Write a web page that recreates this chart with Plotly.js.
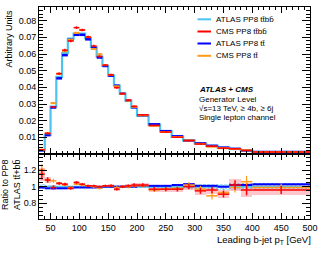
<!DOCTYPE html>
<html>
<head>
<meta charset="utf-8">
<script src="https://cdn.plot.ly/plotly-3.0.1.min.js"></script>
<style>html,body{margin:0;padding:0;background:#fff}#c{width:332px;height:257px}</style>
</head>
<body>
<div id="c"></div>
<script>
// bin edges (GeV)
const binEdges = [30,40,50,60,70,80,90,100,110,120,130,140,150,160,170,180,190,200,220,240,260,280,300,320,340,360,380,400,500];

// top panel: normalised distributions
const atlasTtbb = [0.0022,0.0115,0.0285,0.0463,0.0605,0.0692,0.0722,0.0722,0.0695,0.0642,0.0585,0.0528,0.0470,0.0410,0.0362,0.0320,0.0280,0.0230,0.0176,0.0136,0.0104,0.0080,0.0063,0.0049,0.0038,0.0030,0.0022,0.0012];
const cmsTtbb   = [0.0025,0.0124,0.0282,0.0482,0.0623,0.0678,0.0758,0.0744,0.0702,0.0648,0.0585,0.0533,0.0475,0.0398,0.0362,0.0323,0.0286,0.0235,0.0171,0.0132,0.0101,0.0080,0.0060,0.0047,0.0035,0.0031,0.0021,0.00115];
const atlasTt   = [0.0022,0.0113,0.0279,0.0454,0.0593,0.0685,0.0715,0.0715,0.0688,0.0636,0.0579,0.0528,0.0470,0.0410,0.0362,0.0320,0.0280,0.0232,0.0178,0.0137,0.0106,0.0082,0.0064,0.0049,0.0038,0.0031,0.0022,0.00124];
const cmsTt     = [0.0026,0.0124,0.0305,0.0482,0.0617,0.0685,0.0727,0.0744,0.0702,0.0630,0.0598,0.0533,0.0475,0.0406,0.0362,0.0320,0.0283,0.0232,0.0169,0.0132,0.0102,0.0082,0.0061,0.0044,0.0035,0.0030,0.0023,0.0012];
const cmsTtbbErr = [0.0003,0.0005,0.0006,0.0007,0.0008,0.0008,0.0008,0.0008,0.0008,0.0007,0.0007,0.0006,0.0006,0.0006,0.0005,0.0005,0.0005,0.0004,0.0004,0.0003,0.0003,0.0003,0.0003,0.0002,0.0002,0.0002,0.0002,0.0001];
const cmsTtErr   = [0.0003,0.0004,0.0005,0.0006,0.0006,0.0006,0.0006,0.0006,0.0006,0.0006,0.0006,0.0005,0.0005,0.0005,0.0004,0.0004,0.0004,0.0004,0.0003,0.0003,0.0003,0.0002,0.0002,0.0002,0.0002,0.0002,0.0002,0.0001];

// ratio panel: ratio to ATLAS PP8 tt+bb
const ratioAtlasTtbb = [1,1,1,1,1,1,1,1,1,1,1,1,1,1,1,1,1,1,1,1,1,1,1,1,1,1,1,1];
const ratioAtlasTtbbUnc = [0.03,0.02,0.015,0.012,0.01,0.01,0.01,0.01,0.01,0.01,0.01,0.012,0.012,0.015,0.015,0.015,0.015,0.015,0.02,0.02,0.025,0.025,0.03,0.03,0.035,0.04,0.045,0.045];
const ratioCmsTtbb = [1.15,1.08,0.99,1.04,1.03,0.98,1.05,1.03,1.01,1.01,1.00,1.01,1.01,0.97,1.00,1.01,1.02,1.02,0.97,0.97,0.97,1.00,0.95,0.96,0.91,1.02,0.96,0.96];
const ratioCmsTtbbUnc = [0.08,0.04,0.03,0.02,0.02,0.02,0.02,0.015,0.015,0.015,0.015,0.015,0.02,0.02,0.02,0.02,0.025,0.025,0.03,0.03,0.035,0.04,0.045,0.05,0.05,0.07,0.08,0.06];
const ratioAtlasTt = [0.99,0.98,0.98,0.98,0.98,0.99,0.99,0.99,0.99,0.99,0.99,1.00,1.00,1.00,1.00,1.00,1.00,1.01,1.01,1.01,1.02,1.03,1.01,1.01,1.00,1.02,1.02,1.03];
const ratioCmsTt = [1.20,1.08,1.07,1.04,1.02,0.99,1.03,1.02,1.01,1.00,0.98,1.01,1.01,0.99,1.00,1.00,1.01,1.01,0.96,0.97,0.98,1.02,0.97,0.89,0.93,0.99,1.06,0.99];
const ratioCmsTtUnc = [0.07,0.03,0.025,0.02,0.015,0.015,0.015,0.015,0.015,0.015,0.015,0.015,0.015,0.02,0.02,0.02,0.02,0.02,0.025,0.025,0.03,0.035,0.04,0.045,0.05,0.06,0.07,0.05];

const seriesNames = ['ATLAS PP8 tt\u0304bb\u0304','CMS PP8 tt\u0304bb\u0304','ATLAS PP8 tt\u0304','CMS PP8 tt\u0304'];
const xTitle = 'Leading b-jet p<sub>T</sub> [GeV]';

const cLight = '#4cc4f0', cRed = '#ff0000', cBlue = '#0000ff', cOrange = '#ff9a1a';

const centers = [], halfW = [], widths = [];
for (let i = 0; i < binEdges.length - 1; i++) {
  centers.push((binEdges[i] + binEdges[i+1]) / 2);
  halfW.push((binEdges[i+1] - binEdges[i]) / 2);
  widths.push(binEdges[i+1] - binEdges[i]);
}
const stepY = v => v.concat([v[v.length-1]]);

function segs(y, color, thick, xa, ya, yerr, yerrThick) {
  const t = {x: centers, y: y, mode: 'markers', type: 'scatter', xaxis: xa, yaxis: ya,
    marker: {size: 1, color: color}, showlegend: false, hoverinfo: 'skip',
    error_x: {type: 'data', array: halfW, visible: true, color: color, thickness: thick, width: 0}};
  if (yerr) t.error_y = {type: 'data', array: yerr, visible: true, color: color, thickness: yerrThick || 1, width: 0};
  return t;
}
function box(y, unc, color, xa, ya, pattern) {
  const t = {type: 'bar', x: centers, width: widths, base: y.map((v,i)=>v-unc[i]), y: unc.map(u=>2*u),
    xaxis: xa, yaxis: ya, showlegend: false, hoverinfo: 'skip',
    marker: {color: color, line: {width: 0}}};
  if (pattern) t.marker.pattern = {shape: 'x', fgcolor: '#3ab8ee', bgcolor: 'rgba(0,0,0,0)', size: 3, solidity: 0.4};
  return t;
}

const traces = [
  // top panel
  {x: binEdges, y: stepY(atlasTtbb), type: 'scatter', mode: 'lines', line: {shape: 'hv', color: cLight, width: 2.2}, xaxis: 'x2', yaxis: 'y2', showlegend: false, hoverinfo: 'skip'},
  box(cmsTt, cmsTtErr, 'rgba(255,170,60,0.45)', 'x2', 'y2'),
  segs(atlasTt, cBlue, 2.5, 'x2', 'y2'),
  segs(cmsTt, cOrange, 2, 'x2', 'y2', cmsTtErr, 1),
  segs(cmsTtbb, cRed, 1.5, 'x2', 'y2', cmsTtbbErr, 1.5),
  // ratio panel
  box(ratioAtlasTtbb, ratioAtlasTtbbUnc, 'rgba(0,0,0,0)', 'x', 'y', true),
  box(ratioCmsTtbb, ratioCmsTtbbUnc, 'rgba(255,90,110,0.35)', 'x', 'y'),
  {x: binEdges, y: stepY(ratioAtlasTtbb), type: 'scatter', mode: 'lines', line: {shape: 'hv', color: cLight, width: 2}, xaxis: 'x', yaxis: 'y', showlegend: false, hoverinfo: 'skip'},
  segs(ratioAtlasTt, cBlue, 2, 'x', 'y'),
  segs(ratioCmsTt, cOrange, 1.5, 'x', 'y', ratioCmsTtUnc, 1.2),
  segs(ratioCmsTtbb, cRed, 1.5, 'x', 'y', ratioCmsTtbb.map((v,i)=>ratioCmsTtbbUnc[i]*0.8), 1.5)
];

const W = 332, H = 257, L = 39, R = 22, T = 7, B = 38;
const pw = W - L - R, ph = H - T - B;
const px = v => (v - L) / pw;
const py = v => (H - B - v) / ph;
const split = py(154);

const font = {family: 'Liberation Sans, Arial, Helvetica, sans-serif', size: 9, color: '#000'};
const axBase = {showline: true, linecolor: '#000', linewidth: 1, ticks: 'inside', tickcolor: '#000', tickwidth: 1,
  mirror: 'allticks', zeroline: false, showgrid: false, tickfont: font};

const annotations = [];
const shapes = [];
const legendColors = [cLight, cRed, cBlue, cOrange];
const legendY = [19.3, 31.5, 43.5, 55.8];
seriesNames.forEach((n, i) => {
  shapes.push({type: 'line', xref: 'paper', yref: 'paper', x0: px(197.5), x1: px(211), y0: py(legendY[i]), y1: py(legendY[i]), line: {color: legendColors[i], width: 2}});
  annotations.push({xref: 'paper', yref: 'paper', x: px(213.5), y: py(legendY[i]), xanchor: 'left', yanchor: 'middle', text: n, showarrow: false, font: Object.assign({}, font, {size: 8})});
});
const info = [['<b><i>ATLAS + CMS</i></b>', 89.3], ['Generator Level', 99], ['\u221As=13 TeV, \u2265 4b, \u2265 6j', 108.5], ['Single lepton channel', 117.8]];
info.forEach(([t, y]) => annotations.push({xref: 'paper', yref: 'paper', x: px(197), y: py(y), xanchor: 'left', yanchor: 'middle', text: t, showarrow: false, font: Object.assign({}, font, {size: 8})}));
annotations.push({xref: 'paper', yref: 'paper', x: px(313), y: py(240), xanchor: 'right', yanchor: 'middle', text: xTitle, showarrow: false, font: Object.assign({}, font, {size: 9.5})});
annotations.push({xref: 'paper', yref: 'paper', x: px(8), y: py(7.5), xanchor: 'center', yanchor: 'top', textangle: -90, text: 'Arbitrary Units', showarrow: false, font: font});
annotations.push({xref: 'paper', yref: 'paper', x: px(10.5), y: py(212), xanchor: 'center', yanchor: 'bottom', textangle: -90, align: 'left', text: 'Ratio to PP8<br>ATLAS tt\u0304+bb\u0304', showarrow: false, font: font});

const layout = {
  width: W, height: H, margin: {l: L, r: R, t: T, b: B, pad: 0},
  paper_bgcolor: '#fff', plot_bgcolor: '#fff', font: font, showlegend: false, barmode: 'overlay', bargap: 0,
  xaxis: Object.assign({}, axBase, {domain: [0, 1], anchor: 'y', range: [30, 500], tick0: 0, dtick: 50, ticklen: 6,
    minor: {ticks: 'inside', ticklen: 3, dtick: 10, tickcolor: '#000'}}),
  xaxis2: Object.assign({}, axBase, {domain: [0, 1], anchor: 'y2', matches: 'x', range: [30, 500], tick0: 0, dtick: 50, ticklen: 6, showticklabels: false,
    minor: {ticks: 'inside', ticklen: 3, dtick: 10, tickcolor: '#000'}}),
  yaxis: Object.assign({}, axBase, {domain: [0, split], anchor: 'x', range: [0.612, 1.392], tickvals: [0.8, 1, 1.2], ticktext: ['0.8', '1', '1.2'], ticklen: 8,
    minor: {ticks: 'inside', ticklen: 4, tickvals: [0.65,0.7,0.75,0.85,0.9,0.95,1.05,1.1,1.15,1.25,1.3,1.35], tickcolor: '#000'}}),
  yaxis2: Object.assign({}, axBase, {domain: [split, 1], anchor: 'x2', range: [0, 0.0882], tickvals: [0.01,0.02,0.03,0.04,0.05,0.06,0.07,0.08], ticktext: ['0.01','0.02','0.03','0.04','0.05','0.06','0.07','0.08'], ticklen: 8,
    minor: {ticks: 'inside', ticklen: 4, tick0: 0, dtick: 0.002, tickcolor: '#000'}}),
  shapes: shapes,
  annotations: annotations
};

Plotly.newPlot('c', traces, layout, {staticPlot: true, displayModeBar: false});
</script>
</body>
</html>
